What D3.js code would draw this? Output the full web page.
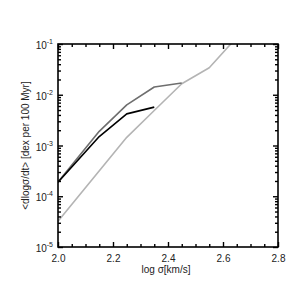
<!DOCTYPE html>
<html>
<head>
<meta charset="utf-8">
<script src="https://cdn.jsdelivr.net/npm/d3@7"></script>
<style>
  body { margin: 0; background: #fff; }
  svg { display: block; font-family: "Liberation Sans", Arial, sans-serif; }
</style>
</head>
<body>
<svg id="chart" width="292" height="292"></svg>
<script>
// log sigma [km/s] and <dlog sigma/dt> [dex per 100 Myr]
const blackX = [2.0, 2.15, 2.25, 2.35];
const blackY = [1.9e-4, 1.5e-3, 4.2e-3, 5.7e-3];
const darkX = [2.0, 2.15, 2.25, 2.35, 2.45];
const darkY = [1.9e-4, 1.9e-3, 6.3e-3, 1.42e-2, 1.7e-2];
const lightX = [2.0, 2.25, 2.35, 2.45, 2.55, 2.65];
const lightY = [3.2e-5, 1.45e-3, 4.9e-3, 1.65e-2, 3.4e-2, 0.135];

const xMajor = [2.0, 2.2, 2.4, 2.6, 2.8];
const yMajor = [1e-5, 1e-4, 1e-3, 1e-2, 1e-1];

const plotLeft = 58, plotRight = 278, plotTop = 44, plotBottom = 247;

const svg = d3.select("#chart");
const x = d3.scaleLinear().domain([2.0, 2.8]).range([plotLeft, plotRight]);
const y = d3.scaleLog().domain([1e-5, 1e-1]).range([plotBottom, plotTop]);

const xMinor = d3.range(2.0, 2.8001, 0.05).filter(v => !xMajor.some(m => Math.abs(m - v) < 1e-6));
const yMinor = [];
for (let e = -5; e < -1; e++) {
    for (let k = 2; k <= 9; k++) yMinor.push(k * Math.pow(10, e));
}

svg.append("clipPath").attr("id", "clip")
    .append("rect").attr("x", plotLeft).attr("y", plotTop)
    .attr("width", plotRight - plotLeft).attr("height", plotBottom - plotTop);

const line = d3.line().x(d => x(d[0])).y(d => y(d[1]));

const series = [
    { xs: lightX, ys: lightY, color: "#b4b4b4" },
    { xs: darkX, ys: darkY, color: "#6e6e6e" },
    { xs: blackX, ys: blackY, color: "#000000" }
];
series.forEach((s) => {
    svg.append("path")
        .attr("clip-path", "url(#clip)")
        .attr("d", line(s.xs.map((v, i) => [v, s.ys[i]])))
        .attr("fill", "none")
        .attr("stroke", s.color)
        .attr("stroke-width", 1.6)
        .attr("stroke-linejoin", "round");
});

function styleAxis(g) {
    g.select(".domain").remove();
    g.selectAll(".tick line").attr("stroke", "#000").attr("stroke-width", 1.4);
    g.selectAll("text").attr("font-size", 10).attr("fill", "#222").attr("font-family", "Liberation Sans, Arial, sans-serif");
}

// bottom
svg.append("g").attr("transform", `translate(0,${plotBottom})`)
    .call(d3.axisBottom(x).tickValues(xMajor).tickSize(-5).tickPadding(7.5).tickFormat(d3.format(".1f")))
    .call(styleAxis);
svg.append("g").attr("transform", `translate(0,${plotBottom})`)
    .call(d3.axisBottom(x).tickValues(xMinor).tickSize(-3).tickFormat(""))
    .call(styleAxis);
// top
svg.append("g").attr("transform", `translate(0,${plotTop})`)
    .call(d3.axisTop(x).tickValues(xMajor).tickSize(-5).tickFormat(""))
    .call(styleAxis);
svg.append("g").attr("transform", `translate(0,${plotTop})`)
    .call(d3.axisTop(x).tickValues(xMinor).tickSize(-3).tickFormat(""))
    .call(styleAxis);

// left
const yAxis = svg.append("g").attr("transform", `translate(${plotLeft},0)`)
    .call(d3.axisLeft(y).tickValues(yMajor).tickSize(-5).tickPadding(5).tickFormat(""))
    .call(styleAxis);
yAxis.selectAll(".tick text")
    .attr("dy", "0.45em")
    .each(function (d) {
        const t = d3.select(this);
        t.append("tspan").text("10");
        t.append("tspan").attr("dy", -5).attr("font-size", 7).text("-" + Math.abs(Math.round(Math.log10(d))));
    });
svg.append("g").attr("transform", `translate(${plotLeft},0)`)
    .call(d3.axisLeft(y).tickValues(yMinor).tickSize(-3).tickFormat(""))
    .call(styleAxis);
// right
svg.append("g").attr("transform", `translate(${plotRight},0)`)
    .call(d3.axisRight(y).tickValues(yMajor).tickSize(-5).tickFormat(""))
    .call(styleAxis);
svg.append("g").attr("transform", `translate(${plotRight},0)`)
    .call(d3.axisRight(y).tickValues(yMinor).tickSize(-3).tickFormat(""))
    .call(styleAxis);

// frame
svg.append("rect")
    .attr("x", plotLeft).attr("y", plotTop)
    .attr("width", plotRight - plotLeft).attr("height", plotBottom - plotTop)
    .attr("fill", "none").attr("stroke", "#000").attr("stroke-width", 1.6);

// labels
svg.append("text")
    .attr("x", (plotLeft + plotRight) / 2 - 2).attr("y", 273)
    .attr("text-anchor", "middle").attr("font-size", 10).attr("fill", "#222")
    .text("log σ[km/s]");
svg.append("text")
    .attr("transform", `translate(29,${(plotTop + plotBottom) / 2}) rotate(-90)`)
    .attr("text-anchor", "middle").attr("font-size", 10).attr("fill", "#222")
    .text("<dlogσ/dt> [dex per 100 Myr]");
</script>
</body>
</html>
